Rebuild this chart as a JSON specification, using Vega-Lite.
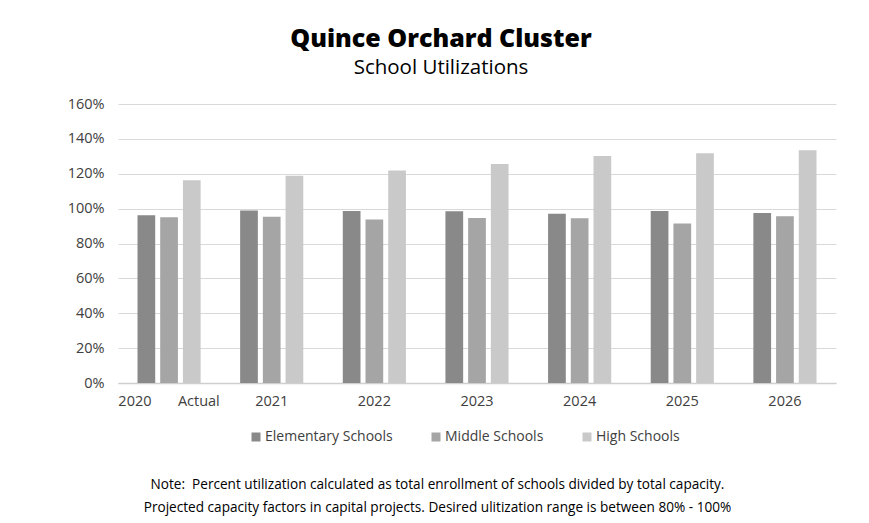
{
  "$schema": "https://vega.github.io/schema/vega-lite/v6.json",
  "autosize": {"type": "none"},
  "width": 718,
  "height": 279,
  "padding": {"left": 118, "top": 104, "right": 33, "bottom": 140},
  "background": "white",
  "config": {
    "font": "Open Sans",
    "view": {"stroke": null}
  },
  "title": {
    "text": "Quince Orchard Cluster",
    "subtitle": "School Utilizations",
    "anchor": "middle",
    "frame": "group",
    "dx": -36,
    "font": "Open Sans",
    "fontSize": 25,
    "fontWeight": 800,
    "color": "#000000",
    "subtitleFont": "Open Sans",
    "subtitleFontSize": 20.5,
    "subtitleColor": "#000000",
    "subtitlePadding": 6,
    "offset": 18
  },
  "data": {
    "values": [
      {"year": "2020 Actual", "type": "Elementary Schools", "value": 0.962},
      {"year": "2020 Actual", "type": "Middle Schools", "value": 0.950},
      {"year": "2020 Actual", "type": "High Schools", "value": 1.163},
      {"year": "2021", "type": "Elementary Schools", "value": 0.989},
      {"year": "2021", "type": "Middle Schools", "value": 0.954},
      {"year": "2021", "type": "High Schools", "value": 1.189},
      {"year": "2022", "type": "Elementary Schools", "value": 0.987},
      {"year": "2022", "type": "Middle Schools", "value": 0.937},
      {"year": "2022", "type": "High Schools", "value": 1.218},
      {"year": "2023", "type": "Elementary Schools", "value": 0.985},
      {"year": "2023", "type": "Middle Schools", "value": 0.946},
      {"year": "2023", "type": "High Schools", "value": 1.256},
      {"year": "2024", "type": "Elementary Schools", "value": 0.971},
      {"year": "2024", "type": "Middle Schools", "value": 0.945},
      {"year": "2024", "type": "High Schools", "value": 1.302},
      {"year": "2025", "type": "Elementary Schools", "value": 0.987},
      {"year": "2025", "type": "Middle Schools", "value": 0.914},
      {"year": "2025", "type": "High Schools", "value": 1.317},
      {"year": "2026", "type": "Elementary Schools", "value": 0.975},
      {"year": "2026", "type": "Middle Schools", "value": 0.956},
      {"year": "2026", "type": "High Schools", "value": 1.335}
    ]
  },
  "mark": {"type": "bar"},
  "encoding": {
    "x": {
      "field": "year",
      "type": "nominal",
      "sort": null,
      "scale": {"paddingInner": 0.385, "paddingOuter": 0.19},
      "axis": {
        "labelAngle": 0,
        "labelFontSize": 14.5,
        "labelColor": "#404040",
        "labelPadding": 11,
        "ticks": false,
        "domainColor": "#cfcfcf",
        "domainWidth": 1.5,
        "labelExpr": "datum.value == '2020 Actual' ? '2020\u00a0\u00a0\u00a0\u00a0\u00a0\u00a0\u00a0Actual' : datum.value",
        "title": [
          "Note:\u00a0\u00a0Percent utilization calculated as total enrollment of schools divided by total capacity.",
          "Projected capacity factors in capital projects. Desired ulitization range is between 80% - 100%"
        ],
        "titleFont": "Open Sans",
        "titleFontSize": 13.6,
        "titleFontWeight": "normal",
        "titleColor": "#000000",
        "titleLineHeight": 23,
        "titleAnchor": "middle",
        "titleAlign": "center",
        "titleBaseline": "top",
        "titleX": 319,
        "titleY": 94
      }
    },
    "xOffset": {
      "field": "type",
      "type": "nominal",
      "sort": ["Elementary Schools", "Middle Schools", "High Schools"],
      "scale": {"paddingInner": 0.22, "paddingOuter": 0}
    },
    "y": {
      "field": "value",
      "type": "quantitative",
      "scale": {"domain": [0, 1.6], "nice": false},
      "axis": {
        "values": [0, 0.2, 0.4, 0.6, 0.8, 1.0, 1.2, 1.4, 1.6],
        "format": ".0%",
        "title": null,
        "domain": false,
        "ticks": false,
        "labelFontSize": 14.5,
        "labelColor": "#404040",
        "labelPadding": 14,
        "gridColor": "#d9d9d9",
        "gridWidth": 1
      }
    },
    "color": {
      "field": "type",
      "type": "nominal",
      "sort": ["Elementary Schools", "Middle Schools", "High Schools"],
      "scale": {
        "domain": ["Elementary Schools", "Middle Schools", "High Schools"],
        "range": ["#898989", "#a5a5a5", "#c9c9c9"]
      },
      "legend": {
        "title": null,
        "orient": "none",
        "direction": "horizontal",
        "legendX": 131,
        "legendY": 326,
        "symbolType": "square",
        "symbolSize": 81,
        "symbolStrokeWidth": 0,
        "labelFontSize": 14,
        "labelColor": "#404040",
        "labelOffset": 2,
        "columnPadding": 36
      }
    }
  }
}
